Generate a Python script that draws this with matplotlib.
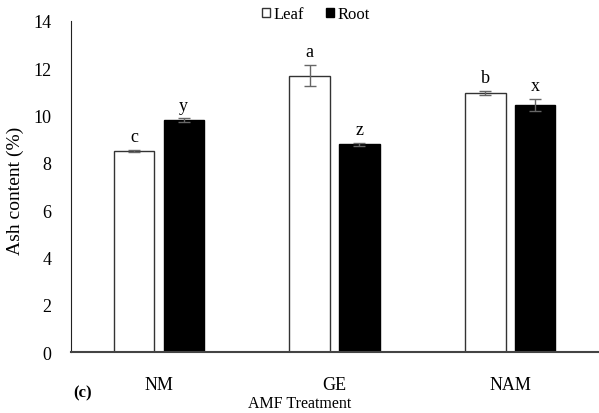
import numpy as np
import matplotlib.pyplot as plt

plt.rcParams['font.family'] = ['Liberation Serif', 'DejaVu Serif']

# data
treatments = ['NM', 'GE', 'NAM']
leaf = [8.5, 11.68, 10.95]
leaf_err = [0.04, 0.45, 0.08]
root = [9.8, 8.78, 10.45]
root_err = [0.08, 0.06, 0.25]
leaf_letters = ['c', 'a', 'b']
root_letters = ['y', 'z', 'x']

fig = plt.figure(figsize=(5.99, 4.14), dpi=100)
ax = fig.add_axes([0.1185, 0.1473, 0.88, 0.7996])

x = np.arange(len(treatments))
w = 0.23
off = 0.142

ax.bar(x - off, leaf, w, color='white', edgecolor='#333333', linewidth=1.0, label='Leaf')
ax.bar(x + off, root, w, color='black', edgecolor='black', linewidth=1.0, label='Root')
ax.errorbar(x - off, leaf, yerr=leaf_err, fmt='none', ecolor='#666666', elinewidth=1.0, capsize=4)
ax.errorbar(x + off, root, yerr=root_err, fmt='none', ecolor='#666666', elinewidth=1.0, capsize=4)

for i in range(len(x)):
    ax.text(x[i] - off, leaf[i] + leaf_err[i] + 0.2, leaf_letters[i], ha='center', va='bottom', fontsize=13)
    ax.text(x[i] + off, root[i] + root_err[i] + 0.2, root_letters[i], ha='center', va='bottom', fontsize=13)

ax.set_xlim(-0.5, 2.5)
ax.set_ylim(0, 14)
ax.set_yticks(range(0, 15, 2))
ax.set_xticks(x)
ax.set_xticklabels(treatments, fontsize=13)
ax.tick_params(axis='y', labelsize=13, length=0, pad=14)
ax.tick_params(axis='x', length=0, pad=17)
for s in ['top', 'right']:
    ax.spines[s].set_visible(False)
ax.spines['left'].set_color('#222222')
ax.spines['bottom'].set_color('#444444')
ax.spines['bottom'].set_linewidth(1.5)

ax.set_ylabel('Ash content (%)', fontsize=14)
ax.yaxis.set_label_coords(-0.09, 0.49)
fig.text(0.5, 0.005, 'AMF Treatment', ha='center', va='bottom', fontsize=11.5)
fig.text(0.122, 0.03, '(c)', ha='left', va='bottom', fontsize=12, fontweight='bold')

ax.legend(loc='upper center', bbox_to_anchor=(0.465, 1.09), ncol=2, frameon=False,
          fontsize=12, handlelength=0.5, handleheight=0.5, handletextpad=0.2, columnspacing=1.3)

fig.savefig('out.png', dpi=100)
